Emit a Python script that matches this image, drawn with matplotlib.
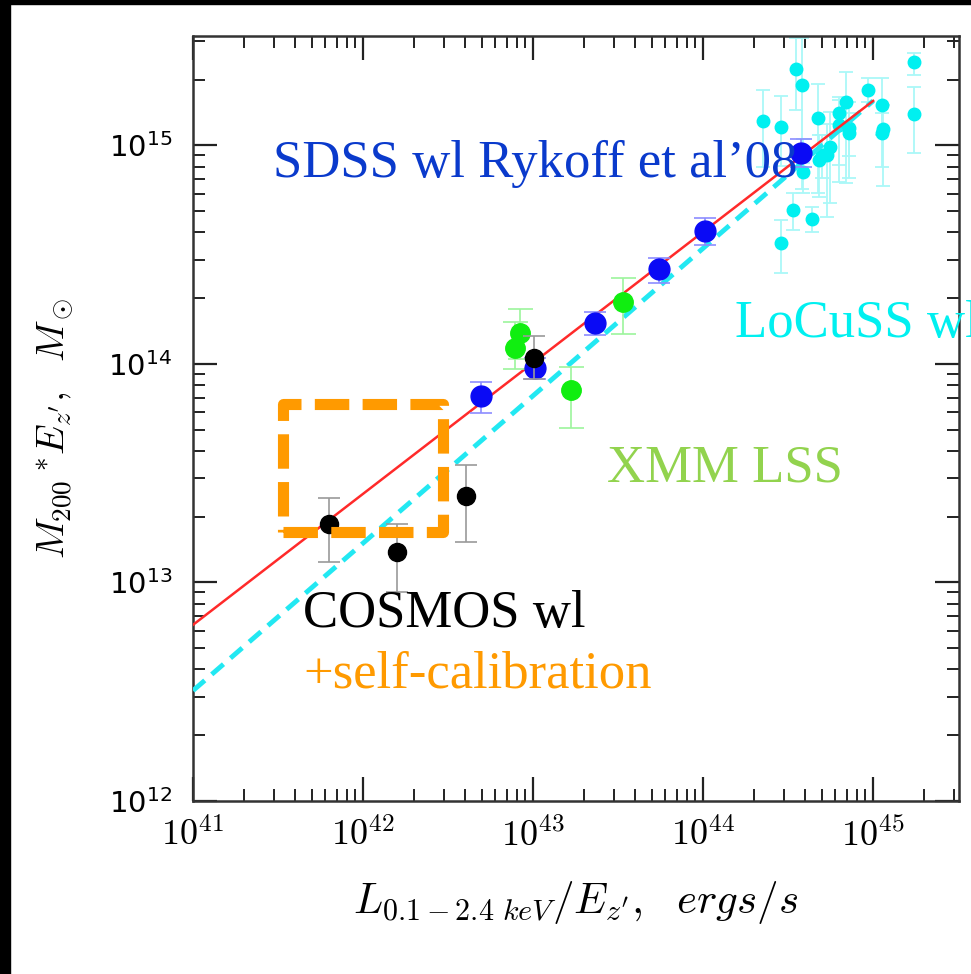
import matplotlib
matplotlib.use("Agg")
import matplotlib.pyplot as plt
from matplotlib.patches import Rectangle
from matplotlib.ticker import FixedLocator, LogLocator, NullFormatter
import numpy as np

plt.rcParams['mathtext.fontset'] = 'cm'

# ---------------- data ----------------
# COSMOS wl (black)
cos_x = [6.3e41, 1.58e42, 4.04e42, 1.01e43]
cos_y = [1.85e13, 1.38e13, 2.49e13, 1.06e14]
cos_lo = [1.24e13, 9.06e12, 1.53e13, 8.5e13]
cos_hi = [2.44e13, 1.85e13, 3.45e13, 1.34e14]

# SDSS wl Rykoff et al'08 (blue)
sdss_x = [4.94e42, 1.02e43, 2.32e43, 5.5e43, 1.02e44, 3.77e44]
sdss_y = [7.14e13, 9.55e13, 1.54e14, 2.72e14, 4.07e14, 9.25e14]
sdss_lo = [5.97e13, 8.5e13, 1.36e14, 2.34e14, 3.51e14, 7.94e14]
sdss_hi = [8.28e13, 1.07e14, 1.73e14, 3.05e14, 4.66e14, 1.07e15]

# XMM LSS (green)
xmm_x = [7.83e42, 8.4e42, 1.67e43, 3.38e43]
xmm_y = [1.18e14, 1.39e14, 7.6e13, 1.92e14]
xmm_lo = [9.5e13, 1.05e14, 5.1e13, 1.37e14]
xmm_hi = [1.55e14, 1.78e14, 9.7e13, 2.48e14]

# LoCuSS wl (cyan)
loc_x = [3.51e44, 3.84e44, 2.24e44, 2.88e44, 4.74e44, 6.28e44, 6.93e44, 9.38e44,
         1.135e45, 1.73e45, 1.73e45, 1.15e45, 1.135e45, 6.28e44, 7.19e44, 7.19e44,
         5.58e44, 5.38e44, 4.80e44, 3.89e44, 3.85e44, 3.40e44, 4.40e44, 2.88e44, 4.99e44]
loc_y = [2.25e15, 1.89e15, 1.30e15, 1.22e15, 1.33e15, 1.41e15, 1.58e15, 1.79e15,
         1.53e15, 2.42e15, 1.39e15, 1.19e15, 1.14e15, 1.24e15, 1.20e15, 1.135e15,
         9.89e14, 9.06e14, 8.61e14, 9.55e14, 7.57e14, 5.07e14, 4.61e14, 3.59e14, 9.06e14]
loc_lo = [1.46e15, 6.31e14, 7.98e14, 8.05e14, 6.03e14, 8.13e14, 6.73e14, 1.58e15,
          1.12e15, 2.10e15, 9.2e14, 6.53e14, 7.94e14, 6.81e14, 7.08e14, 8.91e14,
          5.46e14, 4.72e14, 5.82e14, 8.32e14, 6.07e14, 4.10e14, 4.03e14, 2.60e14, 7.08e14]
loc_hi = [3.09e15, 3.09e15, 1.79e15, 1.69e15, 1.92e15, 1.67e15, 2.17e15, 2.04e15,
          2.04e15, 2.65e15, 1.86e15, 1.53e15, 1.41e15, 1.61e15, 1.58e15, 1.41e15,
          1.43e15, 1.26e15, 1.12e15, 1.07e15, 9.25e14, 6.03e14, 5.25e14, 4.57e14, 1.12e15]

# fitted relations (end points)
fit_x = [1e41, 1e45]
fit_red_y = [6.4e12, 1.6e15]
fit_cyan_y = [3.2e12, 1.6e15]

# self-calibration box
box_x = [3.38e41, 2.94e42]
box_y = [1.70e13, 6.53e13]

xticks = [1e41, 1e42, 1e43, 1e44, 1e45]
xticklabels = [r'$10^{41}$', r'$10^{42}$', r'$10^{43}$', r'$10^{44}$', r'$10^{45}$']
yticks = [1e12, 1e13, 1e14, 1e15]
yticklabels = [r'$\mathregular{10^{12}}$', r'$\mathregular{10^{13}}$',
               r'$\mathregular{10^{14}}$', r'$\mathregular{10^{15}}$']

# ---------------- figure ----------------
W, H = 971, 974
fig = plt.figure(figsize=(W / 100, H / 100), dpi=100)
L, R, T, B = 193, 959, 36, 801
ax = fig.add_axes([L / W, 1 - B / H, (R - L) / W, (B - T) / H])
ax.set_xscale('log')
ax.set_yscale('log')
ax.set_xlim(1e41, 3.2e45)
ax.set_ylim(1e12, 3.17e15)


def yerr(y, lo, hi):
    y = np.asarray(y); lo = np.asarray(lo); hi = np.asarray(hi)
    return [y - lo, hi - y]


# LoCuSS
ax.errorbar(loc_x, loc_y, yerr=yerr(loc_y, loc_lo, loc_hi), fmt='o', ms=9,
            color='#00f0f0', mec='#00f0f0', ecolor='#aaf8f8', elinewidth=1.3,
            capsize=5, capthick=1.3, zorder=2)

# fit lines
ax.plot(fit_x, fit_cyan_y, color='#22e8f2', lw=3.5, ls=(0, (3.2, 1.9)), zorder=3)
ax.plot(fit_x, fit_red_y, color='#ff2a2a', lw=1.8, zorder=3)

# SDSS
ax.errorbar(sdss_x, sdss_y, yerr=yerr(sdss_y, sdss_lo, sdss_hi), fmt='o', ms=15,
            color='#0a0af5', mec='#0a0af5', ecolor='#8c8cff', elinewidth=1.2,
            capsize=8, capthick=1.2, zorder=4)
# XMM
ax.errorbar(xmm_x, xmm_y, yerr=yerr(xmm_y, xmm_lo, xmm_hi), fmt='o', ms=14,
            color='#10ee10', mec='#10ee10', ecolor='#9cf59c', elinewidth=1.2,
            capsize=9, capthick=1.2, zorder=4)
# COSMOS
ax.errorbar(cos_x, cos_y, yerr=yerr(cos_y, cos_lo, cos_hi), fmt='o', ms=13,
            color='black', mec='black', ecolor='#9a9a9a', elinewidth=1.2,
            capsize=8, capthick=1.2, zorder=5)

# self-calibration box
rect = Rectangle((box_x[0], box_y[0]), box_x[1] - box_x[0], box_y[1] - box_y[0],
                 fill=False, edgecolor='#ff9a00', lw=8, ls=(0, (3.1, 1.2)),
                 joinstyle='round', capstyle='butt', zorder=6)
ax.add_patch(rect)

# ticks
ax.xaxis.set_major_locator(FixedLocator(xticks))
ax.set_xticklabels(xticklabels, fontsize=26)
ax.xaxis.set_minor_locator(LogLocator(base=10, subs=np.arange(2, 10)))
ax.xaxis.set_minor_formatter(NullFormatter())
ax.yaxis.set_major_locator(FixedLocator(yticks))
ax.set_yticklabels(yticklabels, fontsize=21, family='DejaVu Sans')
ax.yaxis.set_minor_locator(LogLocator(base=10, subs=np.arange(2, 10)))
ax.yaxis.set_minor_formatter(NullFormatter())
ax.tick_params(which='both', direction='in', top=True, right=True, color='#222222')
ax.tick_params(which='major', length=17, width=1.6)
ax.tick_params(which='minor', length=8.5, width=1.4)
ax.tick_params(axis='x', which='major', pad=12)
ax.tick_params(axis='y', which='major', pad=15)
for s in ax.spines.values():
    s.set_linewidth(1.8)
    s.set_color('#333333')

ax.set_xlabel(r'$L_{\mathit{0.1-2.4\ keV}}/E_{z^\prime},\ \ ergs/s$', fontsize=31,
              va='center')
ax.xaxis.set_label_coords(0.5, (B - 903) / (B - T))
ax.set_ylabel(r'$M_{200}\,{}^{*}E_{z^\prime},\ \ M_\odot$', fontsize=28,
              va='center')
ax.yaxis.set_label_coords((55 - L) / (R - L), (B - 428) / (B - T))


def ptext(px, py, s, color):
    ax.text((px - L) / (R - L), (B - py) / (B - T), s, transform=ax.transAxes,
            fontsize=38, family='Liberation Serif', color=color, va='baseline',
            ha='left', clip_on=False, zorder=7)


ptext(273, 177, 'SDSS wl Rykoff et al\u201908', '#0a3acc')
ptext(735, 337, 'LoCuSS wl', '#00f0f0')
ptext(607, 482, 'XMM LSS', '#92d34e')
ptext(303, 627, 'COSMOS wl', 'black')
ptext(303, 688, '+self-calibration', '#ff9a00')

# black frame edges
fig.add_artist(Rectangle((0, 0), 10 / W, 1, transform=fig.transFigure,
                         color='black', zorder=10))
fig.add_artist(Rectangle((0, 1 - 4 / H), 1, 4 / H, transform=fig.transFigure,
                         color='black', zorder=10))

fig.savefig('out.png', dpi=100)
